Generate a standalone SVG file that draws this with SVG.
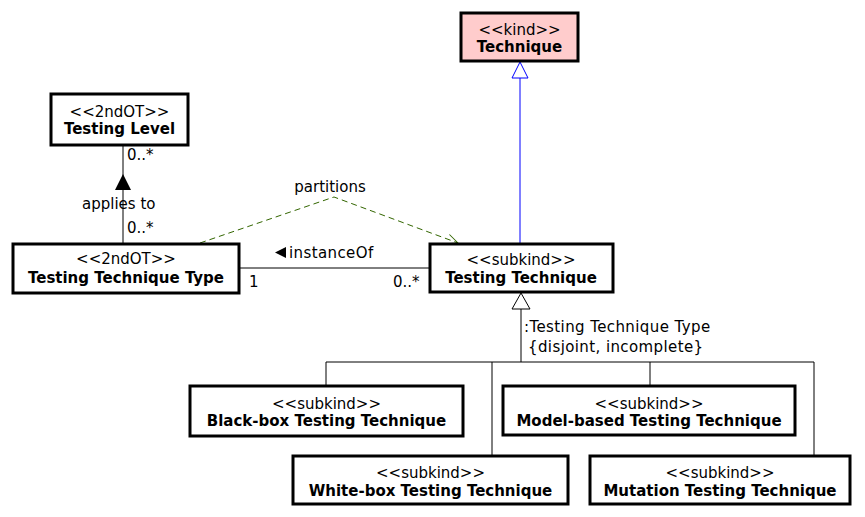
<svg xmlns="http://www.w3.org/2000/svg" width="865" height="517" viewBox="0 0 865 517">
<style>
.box{fill:#fff;stroke:#000;stroke-width:3}
.kind{fill:#ffcccc;stroke:#000;stroke-width:3}
text{font-family:"DejaVu Sans",sans-serif;font-size:15px;fill:#000}
.st{text-anchor:middle}
.nm{text-anchor:middle;font-weight:bold}
.lbl{letter-spacing:0.4px}
.ln{fill:none;stroke:#000;stroke-width:1}
</style>
<defs>
<marker id="open" markerWidth="14" markerHeight="12" refX="12" refY="6" orient="auto" markerUnits="userSpaceOnUse">
<path d="M1,1 L12,6 L1,11" fill="none" stroke="#336600" stroke-width="1"/>
</marker>
</defs>
<g id="connectors">
<line class="ln" x1="123" y1="145" x2="123" y2="244"/>
<polygon points="123,174 115,190 131,190" fill="#000"/>
<text x="82" y="209">applies to</text>
<text x="127" y="160">0..*</text>
<text x="127" y="233">0..*</text>
<line class="ln" x1="239" y1="268" x2="430" y2="268"/>
<polygon points="275,252.5 286,247 286,258" fill="#000"/>
<text class="lbl" x="289" y="258">instanceOf</text>
<text x="249" y="287">1</text>
<text x="393" y="287">0..*</text>
<polyline points="200,243 334,197 458,243" fill="none" stroke="#336600" stroke-width="1" stroke-dasharray="6,4" marker-end="url(#open)"/>
<text class="st" x="330" y="192">partitions</text>
<line x1="520" y1="78" x2="520" y2="244" stroke="#0000ff" stroke-width="1"/>
<polygon points="520,62 512,78 528,78" fill="#fff" stroke="#0000ff" stroke-width="1"/>
<line class="ln" x1="521" y1="309" x2="521" y2="362"/>
<polygon points="521,293 512,309 530,309" fill="#fff" stroke="#000" stroke-width="1"/>
<text class="lbl" x="524" y="332">:Testing Technique Type</text>
<text class="lbl" x="528" y="352">{disjoint, incomplete}</text>
<polyline class="ln" points="326,386 326,362 814,362 814,456"/>
<line class="ln" x1="492" y1="362" x2="492" y2="456"/>
<line class="ln" x1="650" y1="362" x2="650" y2="386"/>
</g>
<g id="technique">
<rect class="kind" x="461" y="13" width="117" height="48"/>
<text class="st" x="519.5" y="35">&lt;&lt;kind&gt;&gt;</text>
<text class="nm" x="519.5" y="52">Technique</text>
</g>
<g id="testing-level">
<rect class="box" x="51" y="94" width="137" height="51"/>
<text class="st" x="119.5" y="117">&lt;&lt;2ndOT&gt;&gt;</text>
<text class="nm" x="119.5" y="134">Testing Level</text>
</g>
<g id="testing-technique-type">
<rect class="box" x="13" y="244" width="226" height="49"/>
<text class="st" x="126" y="264">&lt;&lt;2ndOT&gt;&gt;</text>
<text class="nm" x="126" y="283">Testing Technique Type</text>
</g>
<g id="testing-technique">
<rect class="box" x="430" y="244" width="183" height="48"/>
<text class="st" x="521" y="265">&lt;&lt;subkind&gt;&gt;</text>
<text class="nm" x="521" y="283">Testing Technique</text>
</g>
<g id="black-box">
<rect class="box" x="190" y="386" width="273" height="50"/>
<text class="st" x="326.5" y="409">&lt;&lt;subkind&gt;&gt;</text>
<text class="nm" x="326.5" y="426">Black-box Testing Technique</text>
</g>
<g id="model-based">
<rect class="box" x="503" y="386" width="292" height="49"/>
<text class="st" x="649" y="409">&lt;&lt;subkind&gt;&gt;</text>
<text class="nm" x="649" y="426">Model-based Testing Technique</text>
</g>
<g id="white-box">
<rect class="box" x="293" y="456" width="275" height="48"/>
<text class="st" x="430.5" y="478">&lt;&lt;subkind&gt;&gt;</text>
<text class="nm" x="430.5" y="496">White-box Testing Technique</text>
</g>
<g id="mutation">
<rect class="box" x="590" y="456" width="260" height="48"/>
<text class="st" x="720" y="478">&lt;&lt;subkind&gt;&gt;</text>
<text class="nm" x="720" y="496">Mutation Testing Technique</text>
</g>
</svg>
